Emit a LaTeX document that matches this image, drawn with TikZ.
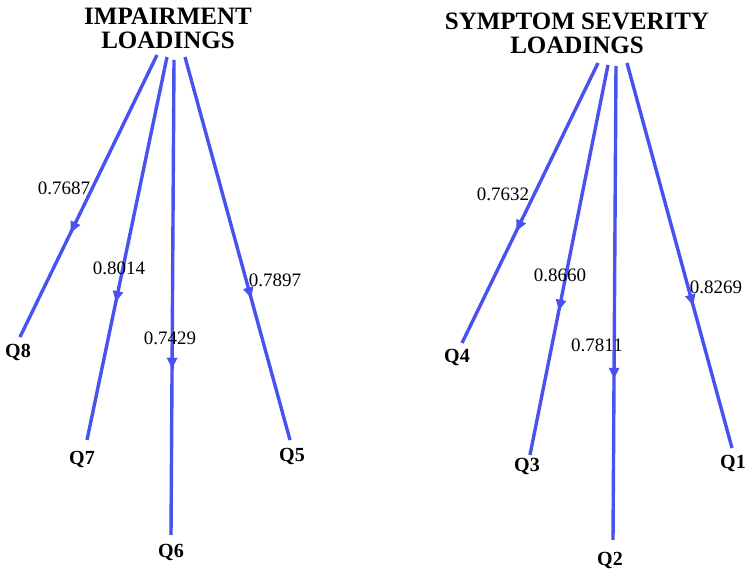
\documentclass[tikz,border=0pt]{standalone}
\usepackage{fontspec}
\setmainfont{Liberation Serif}
\usetikzlibrary{decorations.markings,arrows.meta}
\definecolor{ln}{RGB}{72,82,240}
\begin{document}
\begin{tikzpicture}[x=1pt,y=-1pt,
  title/.style={font=\fontsize{25}{26}\selectfont\bfseries,align=center},
  qlab/.style={font=\fontsize{20}{21}\selectfont\bfseries},
  num/.style={font=\fontsize{19}{20}\selectfont},
  load/.style={draw=ln,line width=3.4pt,postaction={decorate},
    decoration={markings,mark=at position #1 with {\arrow[ln]{Triangle[length=11pt,width=10pt]}}}}]
\useasboundingbox (0,0) rectangle (750,578);
\node[title] (t1) at (168,28) {IMPAIRMENT\\[-2pt]LOADINGS};
\node[title] (t2) at (577,33) {SYMPTOM SEVERITY\\[-2pt]LOADINGS};
% left
\coordinate (s8) at (157,55); \coordinate (e8) at (20,337);
\coordinate (s7) at (167,57); \coordinate (e7) at (87,440);
\coordinate (s6) at (174,60); \coordinate (e6) at (171,535);
\coordinate (s5) at (185,57); \coordinate (e5) at (290,440);
\draw[load=0.63] (s8) -- (e8);
\draw[load=0.64] (s7) -- (e7);
\draw[load=0.65] (s6) -- (e6);
\draw[load=0.63] (s5) -- (e5);
\node[num] (n8) at (64,188) {0.7687};
\node[num] (n7) at (119,268) {0.8014};
\node[num] (n6) at (170,338) {0.7429};
\node[num] (n5) at (275,280) {0.7897};
\node[qlab] (q8) at (18,352) {Q8};
\node[qlab] (q7) at (82,459) {Q7};
\node[qlab] (q6) at (171,552) {Q6};
\node[qlab] (q5) at (292,456) {Q5};
% right
\coordinate (s4) at (598,63); \coordinate (e4) at (462,343);
\coordinate (s3) at (608,65); \coordinate (e3) at (530,455);
\coordinate (s2) at (616,66); \coordinate (e2) at (613,540);
\coordinate (s1) at (627,63); \coordinate (e1) at (732,448);
\draw[load=0.6] (s4) -- (e4);
\draw[load=0.63] (s3) -- (e3);
\draw[load=0.66] (s2) -- (e2);
\draw[load=0.63] (s1) -- (e1);
\node[num] (n4) at (503,194) {0.7632};
\node[num] (n3) at (560,275) {0.8660};
\node[num] (n2) at (597,345) {0.7811};
\node[num] (n1) at (716,287) {0.8269};
\node[qlab] (q4) at (457,357) {Q4};
\node[qlab] (q3) at (527,466) {Q3};
\node[qlab] (q2) at (610,560) {Q2};
\node[qlab] (q1) at (733,463) {Q1};
\end{tikzpicture}
\end{document}
